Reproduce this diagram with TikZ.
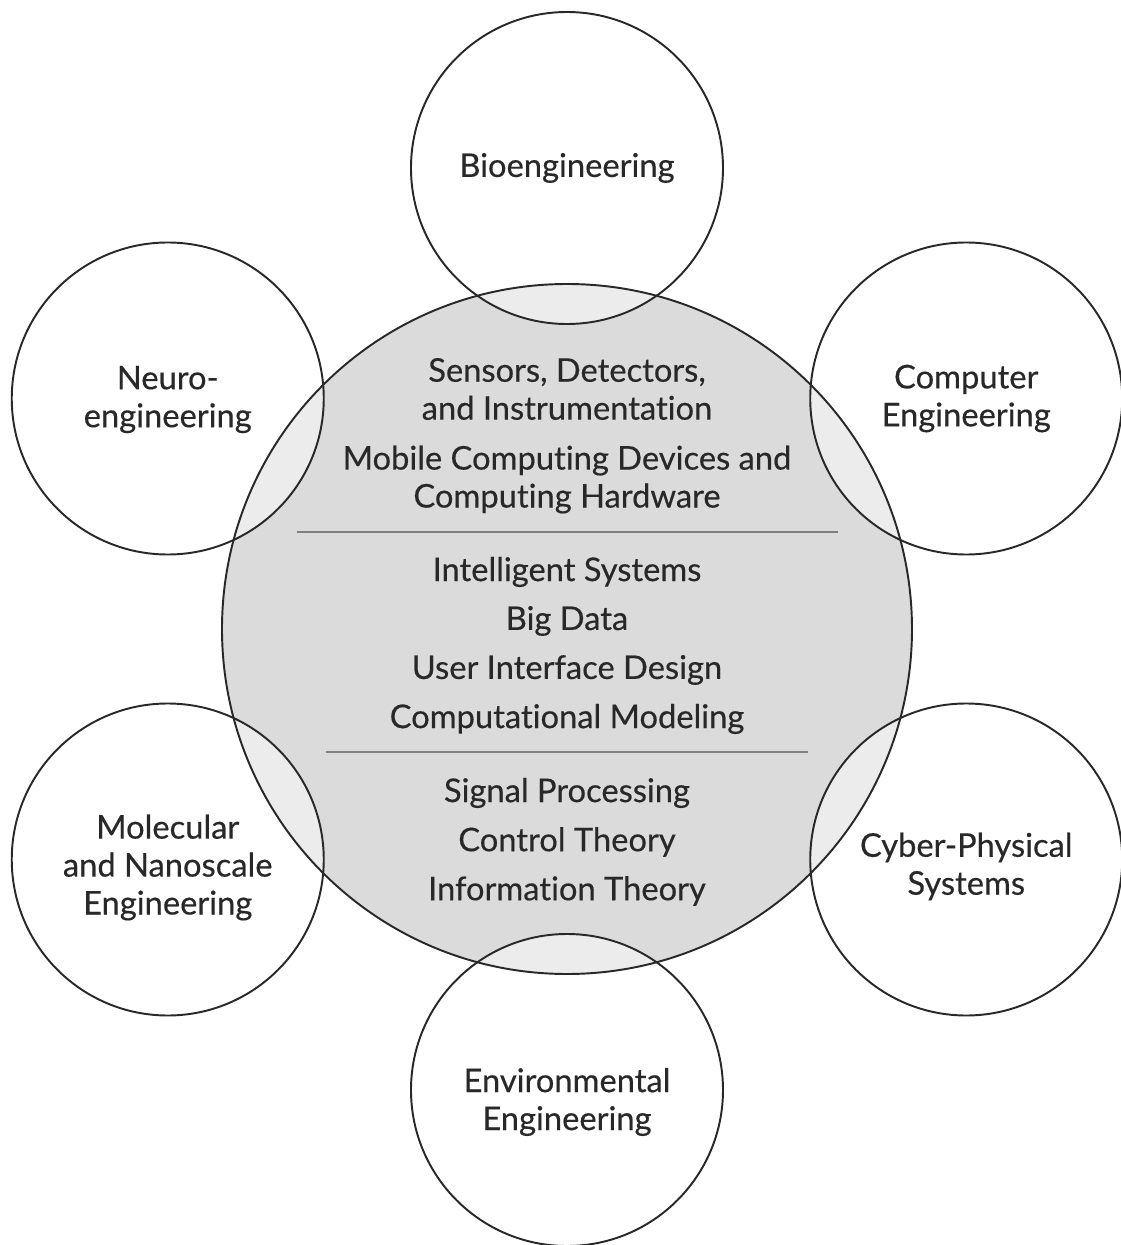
\documentclass[tikz,border=0pt]{standalone}
\usepackage{fontspec}
\setmainfont{Lato}[Ligatures=NoCommon, FakeBold=0.35]
\usepackage{xcolor}
\usepackage{tikz}
\usetikzlibrary{positioning}

\definecolor{hubgray}{RGB}{219,219,219}
\definecolor{lensgray}{RGB}{236,236,236}
\definecolor{inkgray}{RGB}{40,40,40}
\definecolor{rulegray}{RGB}{128,128,128}

\begin{document}
\begin{tikzpicture}[
    node distance=0.98cm,
    font=\fontsize{18.6}{21.6}\selectfont,
    text=inkgray,
    hub/.style={
        circle,
        draw=inkgray,
        line width=1.1pt,
        minimum size=13.8cm,
        inner sep=0pt
    },
    field/.style={
        circle,
        draw=inkgray,
        line width=1.1pt,
        minimum size=6.24cm,
        inner sep=0pt
    },
    caption/.style={
        align=center,
        inner sep=0pt
    },
    topic/.style={
        align=center,
        inner sep=0pt
    },
    divider/.style={
        draw=rulegray,
        line width=1.6pt
    }
]
\useasboundingbox (-11.34,-12.32) rectangle (11.08,12.58);

% Fills: hub, outer fields, and the lenses where they overlap
\fill[hubgray] (0,0) circle (6.9);
\foreach \a in {30,90,...,330}
    \fill[white] (\a:9.22) circle (3.12);
\begin{scope}
    \clip (0,0) circle (6.9);
    \foreach \a in {30,90,...,330}
        \fill[lensgray] (\a:9.22) circle (3.12);
\end{scope}

% Nodes
\node [hub] (hub) at (0,0) {};
\node [field] (bio) at (90:9.22) {};
\node [field] (computer) at (30:9.22) {};
\node [field] (neuro) at (150:9.22) {};
\node [field] (molecular) at (210:9.22) {};
\node [field] (environ) at (270:9.22) {};
\node [field] (cyber) at (330:9.22) {};

% Field names
\node [caption] (bio-name) at (bio) {Bioengineering};
\node [caption] (computer-name) at (computer) {Computer\\Engineering};
\node [caption, yshift=-0.02cm] (neuro-name) at (neuro) {Neuro-\\engineering};
\node [caption, yshift=-0.16cm] (molecular-name) at (molecular) {Molecular\\and Nanoscale\\Engineering};
\node [caption, yshift=-0.24cm] (environ-name) at (environ) {Environmental\\Engineering};
\node [caption, yshift=-0.14cm] (cyber-name) at (cyber) {Cyber-Physical\\Systems};

% Core topics inside the hub
\node [topic] (sensors) at (0,4.80) {Sensors, Detectors,\\and Instrumentation};
\node [topic, below of=sensors, node distance=1.81cm] (mobile) {Mobile Computing Devices and\\Computing Hardware};
\node [topic, below of=mobile, node distance=1.85cm] (intelligent) {Intelligent Systems};
\node [topic, below of=intelligent] (bigdata) {Big Data};
\node [topic, below of=bigdata] (interface) {User Interface Design};
\node [topic, below of=interface] (modeling) {Computational Modeling};
\node [topic, below of=modeling, node distance=1.48cm] (signal) {Signal Processing};
\node [topic, below of=signal] (control) {Control Theory};
\node [topic, below of=control] (information) {Information Theory};

% Dividers
\coordinate (upperL) at (-5.40,1.94);
\coordinate (upperR) at (5.42,1.94);
\coordinate (lowerL) at (-4.82,-2.46);
\coordinate (lowerR) at (4.82,-2.46);
\path [divider] (upperL) -- (upperR);
\path [divider] (lowerL) -- (lowerR);

\end{tikzpicture}
\end{document}
